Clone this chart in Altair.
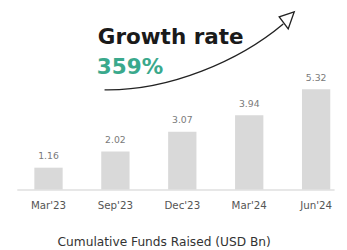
import altair as alt
import pandas as pd

periods = ["Mar'23", "Sep'23", "Dec'23", "Mar'24", "Jun'24"]
funds = [1.16, 2.02, 3.07, 3.94, 5.32]
labels = ["1.16", "2.02", "3.07", "3.94", "5.32"]

headline = "Growth rate"
growth = "359%"
x_title = "Cumulative Funds Raised (USD Bn)"

df = pd.DataFrame({"period": periods, "funds": funds, "label": labels})

W, H = 325, 181

x = alt.X("period:N", sort=periods,
          scale=alt.Scale(paddingInner=0.577, paddingOuter=0.16, align=0.82),
          axis=alt.Axis(title=None, labelAngle=0, ticks=False, domain=True,
                        domainColor="#cfcfcf", domainWidth=1.2,
                        labelColor="#555555", labelFontSize=10.5,
                        labelFont="DejaVu Sans", labelPadding=11))
y = alt.Y("funds:Q", scale=alt.Scale(domain=[0, 9.38], nice=False, zero=True),
          axis=None)

base = alt.Chart(df)

bars = base.mark_bar(color="#d9d9d9").encode(x=x, y=y)

vals = base.mark_text(dy=-7, fontSize=9.5, color="#7a7a7a", font="DejaVu Sans",
                      baseline="bottom").encode(x=x, y=y, text="label:N")

title = alt.Chart(pd.DataFrame({"t": [x_title]})).mark_text(
    fontSize=12.5, color="#333333", font="DejaVu Sans", baseline="alphabetic",
    align="center").encode(x=alt.value(151), y=alt.value(239), text="t:N")

head = alt.Chart(pd.DataFrame({"t": [headline]})).mark_text(
    fontSize=22, fontWeight="bold", color="#1a1a1a", font="DejaVu Sans",
    baseline="alphabetic", align="left").encode(
    x=alt.value(83), y=alt.value(32), text="t:N")

pct = alt.Chart(pd.DataFrame({"t": [growth]})).mark_text(
    fontSize=22, fontWeight="bold", color="#3aa98c", font="DejaVu Sans",
    baseline="alphabetic", align="left").encode(
    x=alt.value(82), y=alt.value(63), text="t:N")

arrow_path = ("M -0.95 0.39 C -0.30 0.40 0.40 0.10 0.84 -0.27 "
              "M 0.95 -0.39 L 0.80 -0.34 L 0.89 -0.22 Z")
arrow = alt.Chart(pd.DataFrame({"a": [1]})).mark_point(
    shape=arrow_path, size=41800, filled=False, color="#222222",
    strokeWidth=1.4, opacity=1).encode(x=alt.value(187), y=alt.value(39))

chart = alt.layer(bars, vals, title, head, pct, arrow).properties(
    width=W, height=H,
    autosize=alt.AutoSizeParams(type="none"),
    padding={"left": 9, "top": 2, "right": 5, "bottom": 59},
).configure_view(stroke=None)

chart.save("out.html", embed_options={"renderer": "svg", "actions": False})
